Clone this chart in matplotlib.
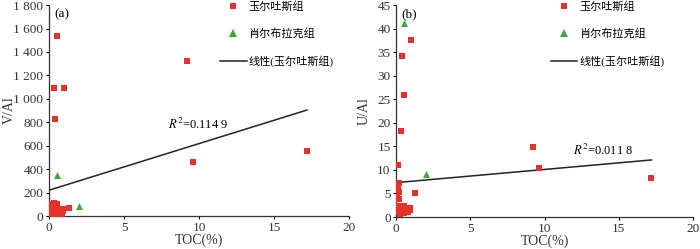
import matplotlib.pyplot as plt
from matplotlib.lines import Line2D
from matplotlib.ticker import FuncFormatter

plt.rcParams['font.family'] = ['Liberation Serif', 'Noto Sans CJK SC']
plt.rcParams['mathtext.fontset'] = 'stix'

# (a) V/Al vs TOC
toc_a_yes = [0.5, 0.3, 1.0, 0.4, 9.2, 9.6, 17.2, 1.3,
             0.05, 0.1, 0.15, 0.2, 0.25, 0.3, 0.35, 0.4, 0.45, 0.5, 0.55,
             0.6, 0.65, 0.7, 0.8, 0.85, 0.9, 0.95, 0.1, 0.2, 0.3, 0.4]
va_a_yes = [1540, 1095, 1090, 830, 1320, 465, 555, 65,
            30, 60, 100, 80, 45, 110, 115, 20, 90, 50, 100,
            10, 35, 5, 30, 15, 60, 45, 10, 25, 5, 70]
toc_a_xiao = [0.5, 2.0]
va_a_xiao = [350, 85]
fit_a = (39.8, 220)  # slope, intercept
r2_a = '0.114 9'

# (b) U/Al vs TOC
toc_b_yes = [1.0, 0.4, 0.5, 0.3, 0.1, 9.2, 9.6, 17.2, 1.3, 0.2, 0.1, 0.2, 0.05, 0.2,
             0.05, 0.1, 0.15, 0.2, 0.3, 0.35, 0.4, 0.45, 0.5, 0.55, 0.6, 0.7,
             0.75, 0.8, 0.9, 0.95, 0.25, 0.5, 0.65]
ua_b_yes = [37.6, 34.2, 26.0, 18.2, 11.0, 14.9, 10.5, 8.3, 5.1, 7.2, 6.5, 5.3, 4.1, 3.8,
            1.5, 2.4, 1.0, 2.0, 1.6, 2.2, 1.2, 1.8, 0.9, 1.5, 2.0, 1.3,
            1.7, 1.1, 1.9, 1.4, 0.6, 2.3, 1.0]
toc_b_xiao = [0.5, 2.0]
ua_b_xiao = [41.2, 9.2]
fit_b = (0.28, 7.3)
r2_b = '0.011 8'

xticks = [0, 5, 10, 15, 20]
yticks_a = [0, 200, 400, 600, 800, 1000, 1200, 1400, 1600, 1800]
yticks_b = [0, 5, 10, 15, 20, 25, 30, 35, 40, 45]

lab_yes = '玉尔吐斯组'
lab_xiao = '肖尔布拉克组'
lab_fit = '线性(玉尔吐斯组)'

red = '#e8312b'
green = '#3fa83a'

fig = plt.figure(figsize=(7, 2.49), dpi=100)
ax1 = fig.add_axes([0.07, 0.1325, 0.4286, 0.847])
ax2 = fig.add_axes([0.566, 0.1285, 0.424, 0.851])


def space_thousands(v, pos):
    s = '%d' % v
    if len(s) > 3:
        s = s[:-3] + ' ' + s[-3:]
    return s


def draw(ax, xr, yr, xg, yg, fit, r2, r2pos, yticks, ylabel, tag, legx, xmax_fit, ylab_x):
    ax.scatter(xr, yr, marker='s', s=22, color=red, linewidths=0, zorder=3)
    ax.scatter(xg, yg, marker='^', s=26, color=green, linewidths=0, zorder=3)
    ax.plot([0, xmax_fit], [fit[1], fit[1] + fit[0] * xmax_fit], color='#222222', lw=1.1, zorder=2)
    ax.set_xlim(0, 20)
    ax.set_ylim(0, yticks[-1])
    ax.set_xticks(xticks)
    ax.set_yticks(yticks)
    for s in ['top', 'right']:
        ax.spines[s].set_visible(False)
    for s in ['left', 'bottom']:
        ax.spines[s].set_color('#333333')
        ax.spines[s].set_linewidth(0.9)
    ax.tick_params(labelsize=9.5, length=2.5, width=0.8, direction='out', pad=1.5,
                   labelcolor='#333333')
    ax.set_xlabel('TOC(%)', fontsize=10, labelpad=0, color='#333333')
    ax.set_ylabel(ylabel, fontsize=10, color='#333333')
    ax.yaxis.set_label_coords(ylab_x, 0.5)
    ax.text(0.017, 0.985, tag, transform=ax.transAxes, fontsize=9.5, va='top', ha='left')
    ax.text(r2pos[0], r2pos[1], '$R^{2}$=' + r2, fontsize=9)
    handles = [
        Line2D([], [], marker='s', color=red, ls='none', markersize=5, markeredgewidth=0),
        Line2D([], [], marker='^', color=green, ls='none', markersize=5.5, markeredgewidth=0),
        Line2D([], [], color='#222222', lw=1.1),
    ]
    ax.legend(handles, [lab_yes, lab_xiao, lab_fit], loc='upper left',
              bbox_to_anchor=(legx, 1.02), frameon=False, fontsize=8,
              labelspacing=1.5, handlelength=2.4, handletextpad=0.2, borderpad=0,
              borderaxespad=0)


draw(ax1, toc_a_yes, va_a_yes, toc_a_xiao, va_a_xiao, fit_a, r2_a, (7.9, 740),
     yticks_a, 'V/Al', '(a)', 0.57, 17.2, -0.11)
ax1.yaxis.set_major_formatter(FuncFormatter(space_thousands))
draw(ax2, toc_b_yes, ua_b_yes, toc_b_xiao, ua_b_xiao, fit_b, r2_b, (11.9, 13.2),
     yticks_b, 'U/Al', '(b)', 0.52, 17.2, -0.085)

fig.savefig('out.png', dpi=100)
